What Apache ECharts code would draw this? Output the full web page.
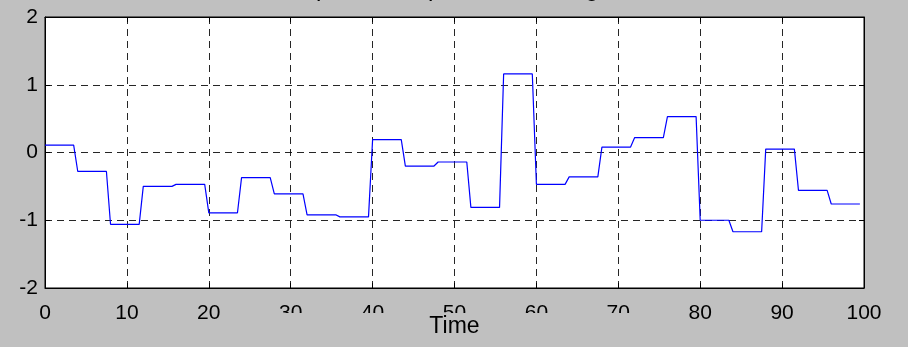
<!DOCTYPE html>
<html>
<head>
<meta charset="utf-8">
<script src="https://cdn.jsdelivr.net/npm/echarts@6/dist/echarts.min.js"></script>
<style>
html,body{margin:0;padding:0;background:#c0c0c0;}
#c{width:908px;height:347px;}
</style>
</head>
<body>
<div id="c"></div>
<script>
// Held value of each 4-second segment (segment k covers t = 4k .. 4k+3.5)
const holdStarts = [0,4,8,12,16,20,24,28,32,36,40,44,48,52,56,60,64,68,72,76,80,84,88,92,96];
const holdValues = [0.11,-0.28,-1.06,-0.50,-0.47,-0.89,-0.37,-0.61,-0.92,-0.95,0.19,-0.20,-0.14,-0.81,1.16,-0.47,-0.36,0.08,0.22,0.53,-1.00,-1.17,0.05,-0.56,-0.76];
const holdLength = 3.5;
const xTicks = [0,10,20,30,40,50,60,70,80,90,100];
const yTicks = [-2,-1,0,1,2];
const titleText = 'Output of sample-and-hold signal';
const xLabel = 'Time';

const lineData = [];
holdStarts.forEach((t, i) => {
  lineData.push([t, holdValues[i]]);
  lineData.push([t + holdLength, holdValues[i]]);
});

const chart = echarts.init(document.getElementById('c'), null, {renderer: 'canvas'});
const gridDash = {type: [7, 5], color: '#000', width: 1, opacity: 0.85};
const font = 'Arial, "Liberation Sans", Helvetica, sans-serif';
chart.setOption({
  backgroundColor: '#c0c0c0',
  animation: false,
  title: {
    text: titleText, left: 'center', top: -28,
    textStyle: {fontFamily: font, fontSize: 24, fontWeight: 'normal', color: '#000'}
  },
  grid: {left: 45, right: 44, top: 17, bottom: 59, show: true, backgroundColor: '#fff', borderColor: '#000', borderWidth: 1, outerBoundsMode: 'none', containLabel: false},
  xAxis: [{
    type: 'value', min: 0, max: 100, interval: 10,
    axisLine: {show: true, onZero: false, lineStyle: {color: '#000', width: 1}},
    axisTick: {show: true, inside: true, length: 5, lineStyle: {color: '#000'}},
    axisLabel: {fontFamily: font, fontSize: 21, color: '#000', margin: 15},
    splitLine: {show: true, lineStyle: gridDash}
  }, {
    type: 'value', min: 0, max: 100, interval: 10, position: 'top',
    axisLine: {show: true, onZero: false, lineStyle: {color: '#000'}},
    axisTick: {show: true, inside: true, length: 5, lineStyle: {color: '#000'}},
    axisLabel: {show: false}, splitLine: {show: false}
  }, {
    type: 'value', min: 0, max: 100, interval: 10, position: 'bottom', z: 10,
    axisLine: {show: false}, axisTick: {show: false}, axisLabel: {show: false}, splitLine: {show: false},
    name: xLabel, nameLocation: 'middle', nameGap: 25, nameMoveOverlap: false,
    nameTextStyle: {fontFamily: font, fontSize: 23, color: '#000', backgroundColor: '#c0c0c0', padding: [2, 170, 4, 170], lineHeight: 24}
  }],
  yAxis: [{
    type: 'value', min: -2, max: 2, interval: 1,
    axisLine: {show: true, onZero: false, lineStyle: {color: '#000'}},
    axisTick: {show: true, inside: true, length: 5, lineStyle: {color: '#000'}},
    axisLabel: {fontFamily: font, fontSize: 21, color: '#000', margin: 7},
    splitLine: {show: true, lineStyle: gridDash}
  }, {
    type: 'value', min: -2, max: 2, interval: 1, position: 'right',
    axisLine: {show: true, onZero: false, lineStyle: {color: '#000'}},
    axisTick: {show: true, inside: true, length: 5, lineStyle: {color: '#000'}},
    axisLabel: {show: false}, splitLine: {show: false}
  }],
  series: [{
    type: 'line', data: lineData, showSymbol: false, symbol: 'none',
    lineStyle: {color: '#0000ff', width: 1.2}, z: 5
  }]
});
</script>
</body>
</html>
